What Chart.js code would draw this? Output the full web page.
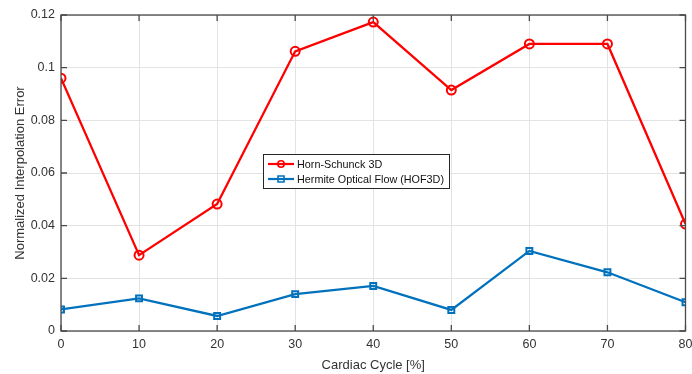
<!DOCTYPE html>
<html>
<head>
<meta charset="utf-8">
<script src="https://cdn.jsdelivr.net/npm/chart.js@4"></script>
<style>
  html, body { margin: 0; padding: 0; background: #fff; }
  #wrap { width: 692px; height: 374px; }
</style>
</head>
<body>
<div id="wrap"><canvas id="errChart"></canvas></div>
<script>
// data
const cycle = [0, 10, 20, 30, 40, 50, 60, 70, 80];
const hornSchunck = [0.0960, 0.0288, 0.0482, 0.1062, 0.1173, 0.0915, 0.1090, 0.1090, 0.0406];
const hermiteFlow = [0.0082, 0.0124, 0.0057, 0.0140, 0.0171, 0.0080, 0.0304, 0.0223, 0.0109];
const xTicks = [0, 10, 20, 30, 40, 50, 60, 70, 80];
const yTicks = [0, 0.02, 0.04, 0.06, 0.08, 0.1, 0.12];
const seriesNames = ["Horn-Schunck 3D", "Hermite Optical Flow (HOF3D)"];

const FONT = "'Liberation Sans', Arial, Helvetica, sans-serif";
const AXIS_COLOR = "#4a4a4a";
const TEXT_COLOR = "#333";

// MATLAB-style box, inward ticks, axis labels and legend
const matlabAxes = {
  id: "matlabAxes",
  afterDraw(c) {
    const ctx = c.ctx;
    const a = c.chartArea;
    const xs = c.scales.x, ys = c.scales.y;
    ctx.save();
    ctx.strokeStyle = AXIS_COLOR;
    ctx.lineWidth = 1.3;
    ctx.strokeRect(a.left, a.top, a.right - a.left, a.bottom - a.top);

    // inward ticks on all four sides
    ctx.beginPath();
    xTicks.forEach(v => {
      const px = xs.getPixelForValue(v);
      ctx.moveTo(px, a.bottom); ctx.lineTo(px, a.bottom - 6);
      ctx.moveTo(px, a.top); ctx.lineTo(px, a.top + 6);
    });
    yTicks.forEach(v => {
      const py = ys.getPixelForValue(v);
      ctx.moveTo(a.left, py); ctx.lineTo(a.left + 6, py);
      ctx.moveTo(a.right, py); ctx.lineTo(a.right - 6, py);
    });
    ctx.stroke();

    // axis titles
    ctx.fillStyle = TEXT_COLOR;
    ctx.font = "13px " + FONT;
    ctx.textAlign = "center";
    ctx.textBaseline = "middle";
    ctx.fillText("Cardiac Cycle [%]", (a.left + a.right) / 2, 365);
    ctx.save();
    ctx.translate(20, (a.top + a.bottom) / 2);
    ctx.rotate(-Math.PI / 2);
    ctx.fillText("Normalized Interpolation Error", 0, 0);
    ctx.restore();

    // legend box
    const lx = 263, ly = 154, lw = 186, lh = 34;
    ctx.fillStyle = "#fff";
    ctx.fillRect(lx, ly, lw, lh);
    ctx.strokeStyle = "#262626";
    ctx.lineWidth = 1;
    ctx.strokeRect(lx + 0.5, ly + 0.5, lw, lh);
    ctx.font = "10.8px " + FONT;
    ctx.textAlign = "left";
    c.data.datasets.forEach((ds, i) => {
      const y = ly + 10 + i * 15;
      ctx.strokeStyle = ds.borderColor;
      ctx.lineWidth = 2.2;
      ctx.beginPath();
      ctx.moveTo(lx + 5, y); ctx.lineTo(lx + 31, y);
      ctx.stroke();
      ctx.lineWidth = 1.6;
      ctx.beginPath();
      if (ds.pointStyle === "rect") ctx.rect(lx + 15, y - 3, 6, 6);
      else ctx.arc(lx + 18, y, 3.2, 0, Math.PI * 2);
      ctx.stroke();
      ctx.fillStyle = "#111";
      ctx.fillText(ds.label, lx + 34, y + 1);
    });
    ctx.restore();
  }
};

new Chart(document.getElementById("errChart"), {
  type: "line",
  data: {
    datasets: [{
      label: seriesNames[0],
      data: cycle.map((x, i) => ({ x, y: hornSchunck[i] })),
      borderColor: "#ff0000",
      borderWidth: 2.3,
      pointStyle: "circle",
      pointRadius: 4.5,
      pointBorderWidth: 2,
      pointBackgroundColor: "rgba(0,0,0,0)",
      pointBorderColor: "#ff0000",
      tension: 0
    }, {
      label: seriesNames[1],
      data: cycle.map((x, i) => ({ x, y: hermiteFlow[i] })),
      borderColor: "#0072bd",
      borderWidth: 2.3,
      pointStyle: "rect",
      pointRadius: 4.2,
      pointBorderWidth: 2,
      pointBackgroundColor: "rgba(0,0,0,0)",
      pointBorderColor: "#0072bd",
      tension: 0
    }]
  },
  options: {
    responsive: true,
    maintainAspectRatio: false,
    animation: false,
    layout: { padding: { top: 15, right: 4, left: 0, bottom: 0 } },
    plugins: { legend: { display: false }, tooltip: { enabled: false } },
    scales: {
      x: {
        type: "linear",
        min: 0, max: 80,
        afterBuildTicks: s => { s.ticks = xTicks.map(v => ({ value: v })); },
        afterFit: s => { s.height = 43; s.paddingLeft = 0; s.paddingRight = 0; },
        grid: { color: "#e3e3e3", drawTicks: false, lineWidth: 1 },
        border: { display: false },
        ticks: { color: TEXT_COLOR, font: { family: FONT, size: 12.5 }, padding: 6, maxRotation: 0 }
      },
      y: {
        min: 0, max: 0.12,
        afterBuildTicks: s => { s.ticks = yTicks.map(v => ({ value: v })); },
        afterFit: s => { s.width = 61; s.paddingTop = 0; s.paddingBottom = 0; },
        grid: { color: "#e3e3e3", drawTicks: false, lineWidth: 1 },
        border: { display: false },
        ticks: {
          color: TEXT_COLOR, font: { family: FONT, size: 12.5 }, padding: 6,
          callback: v => String(Math.round(v * 100) / 100)
        }
      }
    }
  },
  plugins: [matlabAxes]
});
</script>
</body>
</html>
